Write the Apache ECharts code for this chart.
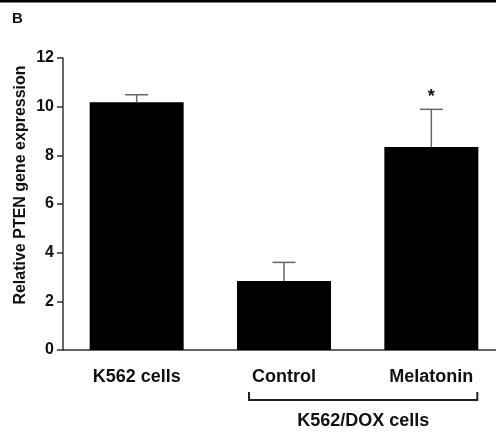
<!DOCTYPE html>
<html>
<head>
<meta charset="utf-8">
<script src="https://cdn.jsdelivr.net/npm/echarts@6/dist/echarts.min.js"></script>
<style>
html,body{margin:0;padding:0;background:#fff;}
#c{width:496px;height:435px;}
</style>
</head>
<body>
<div id="c"></div>
<script>
const categories = ['K562 cells', 'Control', 'Melatonin'];
const means = [10.18, 2.84, 8.34];
const errors = [0.31, 0.76, 1.55];
const significance = ['', '', '*'];
const yTicks = [0, 2, 4, 6, 8, 10, 12];
const groupLabel = 'K562/DOX cells';
const yTitle = 'Relative PTEN gene expression';
const panelLabel = 'B';

const FONT = '"Liberation Sans", Arial, sans-serif';
const chart = echarts.init(document.getElementById('c'), null, {renderer: 'canvas'});

const errData = means.map((m, i) => [i, m, m + errors[i], significance[i]]);

const option = {
  animation: false,
  backgroundColor: '#fff',
  grid: {left: 63, top: 58, width: 442, height: 292, containLabel: false, outerBoundsMode: 'none'},
  xAxis: {
    type: 'category',
    data: categories,
    boundaryGap: true,
    axisLine: {lineStyle: {color: '#333', width: 1.5}},
    axisTick: {alignWithLabel: true, length: 4, lineStyle: {color: '#333', width: 1.5}},
    axisLabel: {color: '#111', fontFamily: FONT, fontWeight: 'bold', fontSize: 18, margin: 18}
  },
  yAxis: {
    type: 'value',
    min: yTicks[0],
    max: yTicks[yTicks.length - 1],
    interval: 2,
    splitLine: {show: false},
    axisLine: {show: true, lineStyle: {color: '#333', width: 1.5}},
    axisTick: {show: true, length: 6, lineStyle: {color: '#333', width: 1.5}},
    axisLabel: {color: '#111', fontFamily: FONT, fontWeight: 'bold', fontSize: 16, margin: 9}
  },
  series: [
    {
      type: 'bar',
      data: means,
      barWidth: 94,
      itemStyle: {color: '#000'},
      z: 2
    },
    {
      type: 'custom',
      data: errData,
      z: 3,
      renderItem: function (params, api) {
        const x = api.value(0);
        const base = api.coord([x, api.value(1)]);
        const top = api.coord([x, api.value(2)]);
        const capHalf = 11.5;
        const children = [
          {type: 'line', shape: {x1: base[0], y1: base[1], x2: top[0], y2: top[1]},
           style: {stroke: '#666', lineWidth: 1.5}},
          {type: 'line', shape: {x1: top[0] - capHalf, y1: top[1], x2: top[0] + capHalf, y2: top[1]},
           style: {stroke: '#666', lineWidth: 1.5}}
        ];
        const sig = api.value(3);
        if (sig) {
          children.push({type: 'text', x: top[0], y: top[1] - 3,
            style: {text: sig, fill: '#111', font: 'bold 18px ' + FONT, align: 'center', verticalAlign: 'bottom'}});
        }
        return {type: 'group', children: children};
      }
    }
  ]
};
chart.setOption(option);

const c1 = chart.convertToPixel({xAxisIndex: 0}, 1);
const c2 = chart.convertToPixel({xAxisIndex: 0}, 2);
const bl = c1 - 35, br = c2 + 46, by = 400;
chart.setOption({
  graphic: [
    {type: 'rect', shape: {x: 0, y: 0, width: 496, height: 2.5}, style: {fill: '#000'}},
    {type: 'text', x: 12, y: 11, style: {text: panelLabel, font: 'bold 15px ' + FONT, fill: '#111'}},
    {type: 'text', x: 21, y: 185, rotation: Math.PI / 2,
     style: {text: yTitle, font: 'bold 16px ' + FONT, fill: '#111', align: 'center', verticalAlign: 'middle'}},
    {type: 'polyline', shape: {points: [[bl, by - 8], [bl, by], [br, by], [br, by - 8]]},
     style: {stroke: '#222', lineWidth: 2, fill: null}},
    {type: 'text', x: (bl + br) / 2, y: 421.5,
     style: {text: groupLabel, font: 'bold 18px ' + FONT, fill: '#111', align: 'center', verticalAlign: 'middle'}}
  ]
});
</script>
</body>
</html>
